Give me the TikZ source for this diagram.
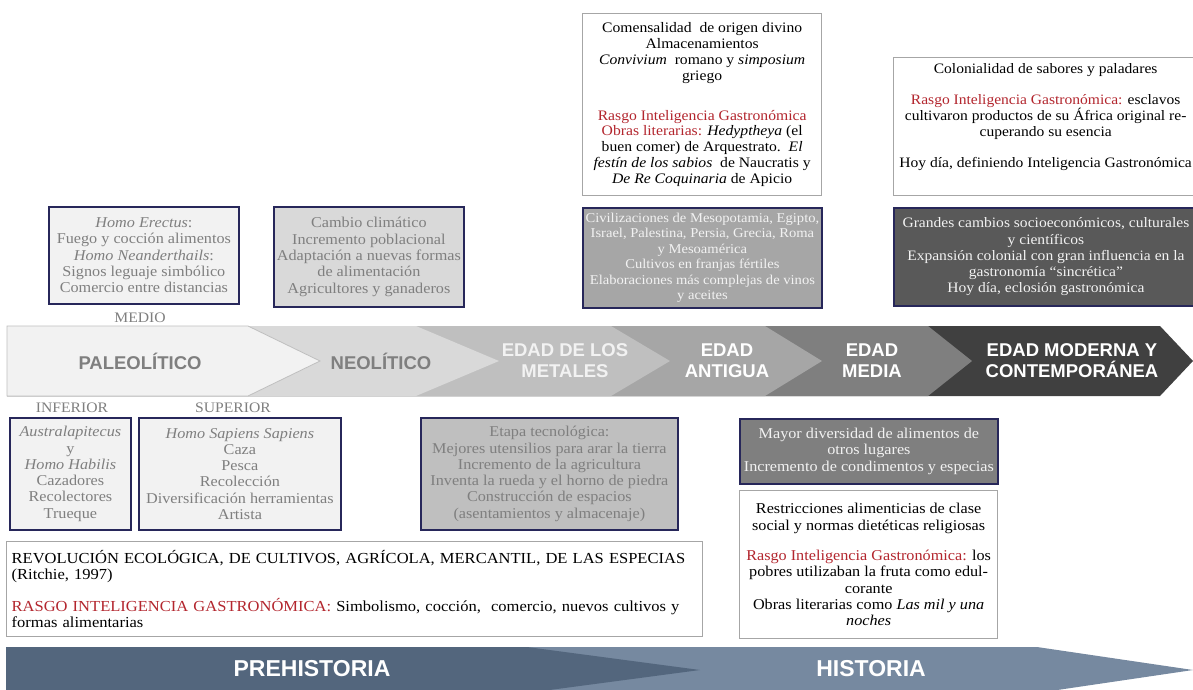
\documentclass[tikz,border=0pt]{standalone}
\usepackage{fontspec}
\setmainfont{Liberation Serif}[FakeStretch=1.08]
\setsansfont{Liberation Sans}
\newcommand{\boxtext}{\fontsize{15}{16.3}\selectfont}
\newcommand{\bandtext}{\sffamily\bfseries\fontsize{18.5}{21}\selectfont}

\tikzset{
  navybox/.style={draw=navy, line width=1.8pt, align=center, inner sep=0pt, anchor=north west, font=\boxtext},
  whitebox/.style={draw=framegray, line width=1.3pt, fill=white, align=center, inner sep=0pt, anchor=north west, font=\boxtext},
  bandlabel/.style={font=\bandtext, align=center},
  sublabel/.style={font=\fontsize{14.5}{16}\selectfont, text=labelgray},
  eralabel/.style={font=\sffamily\bfseries\fontsize{23}{26}\selectfont, text=white},
}

\begin{document}
\begin{tikzpicture}[x=1pt,y=-1pt]
\definecolor{navy}{HTML}{27275A}
\definecolor{framegray}{HTML}{A6A6A6}
\definecolor{labelgray}{HTML}{7F7F7F}
\definecolor{rasgo}{HTML}{B3262E}
\definecolor{pale}{HTML}{F2F2F2}
\definecolor{light}{HTML}{D9D9D9}
\definecolor{silver}{HTML}{BFBFBF}
\definecolor{mid}{HTML}{A6A6A6}
\definecolor{dim}{HTML}{7F7F7F}
\definecolor{deep}{HTML}{595959}
\definecolor{darkest}{HTML}{404040}
\definecolor{prehist}{HTML}{53667D}
\definecolor{hist}{HTML}{7689A0}
\useasboundingbox (0,0) rectangle (1193,690);

% chevron band of ages
\fill[darkest] (7,326) -- (1160,326) -- (1193,361) -- (1160,396) -- (7,396) -- cycle;
\fill[dim] (7,326) -- (928,326) -- (972,361) -- (928,396) -- (7,396) -- cycle;
\fill[mid] (7,326) -- (765,326) -- (822,361) -- (765,396) -- (7,396) -- cycle;
\fill[silver] (7,326) -- (611,326) -- (670,361) -- (611,396) -- (7,396) -- cycle;
\fill[light] (7,326) -- (416,326) -- (499,361) -- (416,396) -- (7,396) -- cycle;
\fill[pale, draw=silver, line width=0.8pt] (7,326) -- (248,326) -- (320,361) -- (248,396) -- (7,396) -- cycle;

\node[bandlabel, text=labelgray] (paleo) at (140,361) {PALEOLÍTICO};
\node[bandlabel, text=labelgray] (neo) at (381,361) {NEOLÍTICO};
\node[bandlabel, text=pale] (metales) at (565,361) {EDAD DE LOS\\METALES};
\node[bandlabel, text=white] (antigua) at (727,361) {EDAD\\ANTIGUA};
\node[bandlabel, text=white] (media) at (872,361) {EDAD\\MEDIA};
\node[bandlabel, text=white] (moderna) at (1072,361) {EDAD MODERNA Y\\CONTEMPORÁNEA};

% sub-periods of the paleolithic
\node[sublabel] (medio) at (140,318) {MEDIO};
\node[sublabel] (inferior) at (72,408) {INFERIOR};
\node[sublabel] (superior) at (233,408) {SUPERIOR};

% boxes above the band
\node[whitebox, font=\fontsize{14.5}{15.8}\selectfont, minimum width=239pt, minimum height=182pt] (comensal) at (582,13) {%
Comensalidad\ \ de origen divino\\
Almacenamientos\\
\textit{Convivium}\ \ romano y \textit{simposium}\\
griego\\[24pt]
\textcolor{rasgo}{Rasgo Inteligencia Gastronómica}\\
\textcolor{rasgo}{Obras literarias:} \textit{Hedyptheya} (el\\
buen comer) de Arquestrato.\ \ \textit{El}\\
\textit{festín de los sabios}\ \ de Naucratis y\\
\textit{De Re Coquinaria} de Apicio};
\node[whitebox, font=\fontsize{14.4}{16.3}\selectfont, minimum width=304pt, minimum height=138pt] (colonial) at (893,57) {%
Colonialidad de sabores y paladares\\[14pt]
\textcolor{rasgo}{Rasgo Inteligencia Gastronómica:} esclavos\\
cultivaron productos de su África original re-\\
cuperando su esencia\\[14pt]
Hoy día, definiendo Inteligencia Gastronómica\\[6pt]\mbox{}};

\node[navybox, fill=pale, text=labelgray, minimum width=190pt, minimum height=97pt] (erectus) at (48,206) {%
\textit{Homo Erectus}:\\
Fuego y cocción alimentos\\
\textit{Homo Neanderthails}:\\
Signos leguaje simbólico\\
Comercio entre distancias};
\node[navybox, fill=light, text=labelgray, minimum width=190pt, minimum height=100pt] (cambio) at (273,206) {%
Cambio climático\\
Incremento poblacional\\
Adaptación a nuevas formas\\
de alimentación\\
Agricultores y ganaderos};
\node[navybox, fill=mid, text=pale, font=\fontsize{13.5}{15.5}\selectfont, minimum width=239pt, minimum height=100pt] (civil) at (582,207) {%
Civilizaciones de Mesopotamia, Egipto,\\
Israel, Palestina, Persia, Grecia, Roma\\
y Mesoamérica\\
Cultivos en franjas fértiles\\
Elaboraciones más complejas de vinos\\
y aceites};
\node[navybox, fill=deep, text=pale, font=\fontsize{14.4}{16.3}\selectfont, minimum width=304pt, minimum height=98pt] (grandes) at (893,207) {%
Grandes cambios socioeconómicos, culturales\\
y científicos\\
Expansión colonial con gran influencia en la\\
gastronomía “sincrética”\\
Hoy día, eclosión gastronómica};

% boxes below the band
\node[navybox, fill=pale, text=labelgray, minimum width=121pt, minimum height=112pt] (austral) at (9,417) {%
\textit{Australapitecus}\\
y\\
\textit{Homo Habilis}\\
Cazadores\\
Recolectores\\
Trueque};
\node[navybox, fill=pale, text=labelgray, minimum width=202pt, minimum height=112pt] (sapiens) at (138,417) {%
\textit{Homo Sapiens Sapiens}\\
Caza\\
Pesca\\
Recolección\\
Diversificación herramientas\\
Artista};
\node[navybox, fill=silver, text=dim, minimum width=257pt, minimum height=112pt] (etapa) at (420,417) {%
Etapa tecnológica:\\
Mejores utensilios para arar la tierra\\
Incremento de la agricultura\\
Inventa la rueda y el horno de piedra\\
Construcción de espacios\\
(asentamientos y almacenaje)};
\node[navybox, fill=dim, text=pale, minimum width=258pt, minimum height=65pt] (mayor) at (739,418) {%
Mayor diversidad de alimentos de\\
otros lugares\\
Incremento de condimentos y especias};
\node[whitebox, minimum width=258pt, minimum height=148pt] (restric) at (739,490) {%
Restricciones alimenticias de clase\\
social y normas dietéticas religiosas\\[14pt]
\textcolor{rasgo}{Rasgo Inteligencia Gastronómica:} los\\
pobres utilizaban la fruta como edul-\\
corante\\
Obras literarias como \textit{Las mil y una}\\
\textit{noches}};
\node[whitebox, align=left, font=\fontsize{15.3}{16.3}\selectfont, text width=686pt, inner xsep=5pt, minimum height=95pt] (revol) at (6,541) {%
REVOLUCIÓN ECOLÓGICA, DE CULTIVOS, AGRÍCOLA, MERCANTIL, DE LAS ESPECIAS\\
(Ritchie, 1997)\\[14pt]
\textcolor{rasgo}{RASGO INTELIGENCIA GASTRONÓMICA:} Simbolismo, cocción,\ \ comercio, nuevos cultivos y\\
formas alimentarias};

% prehistory / history arrows
\fill[hist] (6,647) -- (1037,647) -- (1193,670) -- (1037,693) -- (6,693) -- cycle;
\fill[prehist] (6,647) -- (527,647) -- (700,670) -- (527,693) -- (6,693) -- cycle;
\node[eralabel] (prehistoria) at (312,669) {PREHISTORIA};
\node[eralabel] (historia) at (871,669) {HISTORIA};
\end{tikzpicture}
\end{document}
